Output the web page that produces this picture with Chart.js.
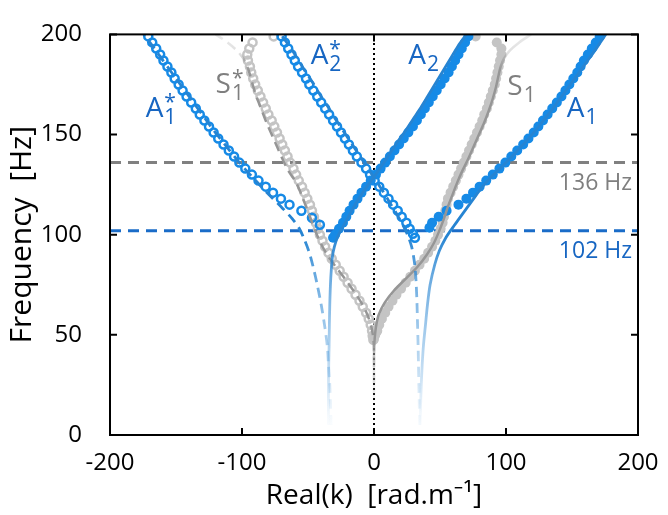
<!DOCTYPE html>
<html>
<head>
<meta charset="utf-8">
<script src="https://cdn.jsdelivr.net/npm/chart.js@4.4.1/dist/chart.umd.min.js"></script>
<style>
  html, body { margin: 0; padding: 0; background: #fff; }
  canvas { display: block; }
</style>
</head>
<body>
<canvas id="chart" width="668" height="515"></canvas>
<script>
// ---- data (frequency in Hz, wavenumber in rad/m) ----
// A1* measured (hollow, negative k)
const a1StarFreq = [199,196,193,190,187,184,181,178,175,172,169,166,163,160,157,154,151,148,145,142,139,136,133,130,127,124,121,118,115,112,108.5,105];
const a1StarK    = [-171,-168,-165,-162,-159.5,-156.5,-153.5,-151,-148,-145,-142,-138.5,-135,-132,-128.5,-125,-121.5,-118,-114,-110,-106,-102,-97.5,-92.5,-87.5,-82,-76.5,-70.5,-64,-55,-47,-41];
// A1 measured (filled)
const a1Freq = [199,196,193,190,187,184,181,178,175,172,169,166,163,160,157,154,151,148,145,142,139,136,133,130,127,124,121,118,115,112,109,106,103.5];
const a1K    = [171,168,165,162,159,156.5,154,151,148,145,142,138.5,135,131.5,128,124.5,121,117,113,108.5,104,99.5,95,90,85,80,75,70,64,55,49,44,42];
// A2* measured (hollow)
const a2StarFreq = [199,196,193,190,187,184,181,178,175,172,169,166,163,160,157,154,151,148,145,142,139,136,133,130,127,124,121,118,115,112,109,106,103,100.5,98.5];
const a2StarK    = [-70,-67.5,-65,-62.5,-60,-57.5,-54.5,-51.5,-49,-46,-43,-40,-37,-34,-31,-28,-25,-22,-19,-16,-13,-9.5,-6,-3,0.5,4,7.5,11,14.5,18,21,24.5,27,29.5,31];
// A2 measured (filled)
const a2Freq = [98.5,100,103,106,109,112,115,118,121,124,127,130,133,136,139,142,145,148,151,154,157,160,163,166,169,172,175,178,181,184,187,190,193,196,199];
const a2K    = [-31,-29.5,-26.5,-23.5,-21,-18.5,-15.5,-12.5,-9.5,-6,-2.5,1.5,5,8.5,12,15.5,19,22.5,26,29.5,32.5,35.5,38.5,41.5,44.5,47.5,50.5,53.5,56.5,59,61.5,64,66.5,69,71.5];
// S1* measured (hollow, grey)
const s1StarFreq = [199,196,193,190,187,184,181,178,175,172,169,166,163,160,157,154,151,148,145,142,139,136,133,130,127,124,121,118,115,112,109,106,103,100,97,94,91,88,85,82,79,76,73,70,67,64,61,58,55,52,49.5,47.5];
const s1StarK    = [-76,-92,-94.5,-96,-95.5,-94,-93,-91.5,-90,-88,-86,-84,-82,-80,-77.5,-75.5,-73.5,-71.5,-69.5,-67.5,-65.5,-63.5,-61,-59,-57,-54.5,-52.5,-50.5,-48.5,-47,-45.5,-44,-42.5,-41,-39,-37,-34.5,-32,-29,-26,-23,-20,-17,-14,-11,-8.5,-6,-4,-2.5,-1.5,-1,-0.5];
// S1 measured (filled, grey)
const s1Freq = [199,196,193,190,187,184,181,178,175,172,169,166,163,160,157,154,151,148,145,142,139,136,133,130,127,124,121,118,115,112,109,106,103,100,97,94,91,88,85,82,79,76,73,70,67,64,61,58,55,52,50,48];
const s1K    = [77,93,96.5,96.5,95.5,94.5,93.5,92.5,91.5,90,88.5,87,85.5,83.5,82,80,78,76,74,72,70,68,66,64,62,60,58,56,55,54,53,52,50.5,48.5,46.5,44,41,38,34.5,31,27.5,24,20.5,17,14,11,8.5,6,4,2.5,1,0];

// model curves
const a1ModelFreq = [5,15,25,35,45,55,65,75,85,92,98,103,108,113,118,123,128,133,138,143,148,153,158,163,168,173,178,183,188,193,198,201];
const a1ModelK    = [35,35.3,35.8,36.5,37.5,39,40.5,42.5,46,49.5,54,59,64.5,70,75.5,81,87.5,95.5,103,110,117,123.5,129.5,135.5,141,146.5,152,157.5,163,168.5,173.5,176.5];
const a1StarModelFreq = [5,15,25,35,45,55,65,75,85,92,98,103,108,113,118,123,128,133,138,143,148,153,158,163,168,173,178,183,188,193,198,201];
const a1StarModelK    = [-32.5,-33,-33.5,-34.5,-35.5,-37.5,-40,-43,-46.5,-49.5,-53,-56.5,-62,-69,-76.5,-84,-91,-98,-104.5,-110.5,-116.5,-122.5,-128,-133.5,-139,-144.5,-150,-155.5,-161,-166.5,-172,-175.5];
const a2StarModelFreq = [5,15,25,35,45,55,65,75,83,89,94,99,104,110,116,122,128,134,140,146,152,158,164,170,176,182,188,194,200];
const a2StarModelK    = [34.5,34.3,34,33.7,33.4,33,32.6,32,31.2,30,28.5,26,22.5,17.5,12,6.5,0.5,-5.5,-11.5,-17.5,-23.5,-29.5,-35,-41,-46.5,-52.5,-58,-64,-70.5];
const a2ModelFreq = [5,15,25,35,45,55,65,75,83,89,94,99,104,110,116,122,128,134,140,146,152,158,164,170,176,182,188,194,200];
const a2ModelK    = [-34.5,-34.5,-34.5,-34.3,-34,-33.8,-33.5,-33,-32.3,-31.5,-30,-27.5,-23.5,-18.5,-13.5,-7.5,-1,5.5,11.5,17.5,24,30,36,41.5,47,52.5,58,63.5,70];
const s1ModelFreq = [10,20,30,40,48,54,60,66,72,78,84,90,96,102,108,114,120,126,132,138,144,150,156,162,168,174,180,184,188,192,196,200];
const s1ModelK    = [0,0,0,0,0.5,1.5,3.5,8,15,24,33,40,45.5,49.5,53,56,59.5,63,67,71.5,75.5,79.5,83.5,87,90,92.5,94.5,96,98.5,103,110,119];
const s1StarModelFreq = [10,20,30,40,48,54,60,66,72,78,84,90,96,102,108,114,120,126,132,138,144,150,156,162,168,174,180,184,188,192,196,200];
const s1StarModelK    = [0,0,0,0,-0.5,-2,-5,-9.5,-15.5,-22,-29,-35.5,-40.5,-44.5,-48,-51.5,-55,-59,-65,-69.5,-73.5,-77.5,-81.5,-85,-88.5,-91.5,-94,-96,-99,-104,-111,-120];

// cut-off frequencies
const cutoffFreqs = [136, 102];
const cutoffLabels = ['136 Hz', '102 Hz'];

const xTicks = [-200, -100, 0, 100, 200];
const yTicks = [0, 50, 100, 150, 200];

// ---- styles ----
const FONT = "'Open Sans', 'Noto Sans', sans-serif";
const BLUE_PT = '#168ae6';
const BLUE_TXT = '#1766c2';
const BLUE_LINE_RGB = '38,132,210';
const GREY_PT = '#c4c4c4';
const GREY_TXT = '#7f7f7f';
const GREY_LINE_RGB = '150,150,150';

Chart.defaults.font.family = FONT;
Chart.defaults.color = '#000';

function pairs(ks, fs) {
    return ks.map((k, i) => ({x: k, y: fs[i]}));
}

// vertical fade, stops given as [freq, alpha]
function fade(rgb, stops) {
    return function(context) {
        const chart = context.chart;
        const {ctx, chartArea, scales} = chart;
        if (!chartArea) { return 'rgb(' + rgb + ')'; }
        const g = ctx.createLinearGradient(0, scales.y.getPixelForValue(0), 0, scales.y.getPixelForValue(200));
        stops.forEach(s => g.addColorStop(s[0] / 200, 'rgba(' + rgb + ',' + s[1] + ')'));
        return g;
    };
}
const blueFade = [[0,0],[10,0.05],[30,0.25],[55,0.45],[80,0.7],[100,1],[200,1]];
const greyFade = [[0,0],[15,0],[35,0.3],[48,1],[182,1],[190,0.3],[200,0.2]];

function pointSet(ks, fs, color, hollow, order) {
    return {
        data: pairs(ks, fs),
        showLine: false,
        pointRadius: hollow ? 4 : 5,
        pointBorderWidth: hollow ? 2.5 : 0,
        pointBorderColor: color,
        pointBackgroundColor: hollow ? 'rgba(255,255,255,0)' : color,
        order: order
    };
}
function lineSet(ks, fs, color, dash, width) {
    return {
        data: pairs(ks, fs),
        showLine: true,
        pointRadius: 0,
        borderColor: color,
        borderWidth: width || 2.5,
        borderDash: dash || [],
        tension: 0.3,
        fill: false,
        order: 0
    };
}

const datasets = [
    // models
    lineSet(a1ModelK, a1ModelFreq, fade(BLUE_LINE_RGB, blueFade), [], 2.8),
    lineSet(a1StarModelK, a1StarModelFreq, fade(BLUE_LINE_RGB, blueFade), [10, 6], 2.8),
    lineSet(a2ModelK, a2ModelFreq, fade(BLUE_LINE_RGB, blueFade), [], 2.8),
    lineSet(a2StarModelK, a2StarModelFreq, fade(BLUE_LINE_RGB, blueFade), [10, 6], 2.8),
    lineSet(s1ModelK, s1ModelFreq, fade(GREY_LINE_RGB, greyFade)),
    lineSet(s1StarModelK, s1StarModelFreq, fade(GREY_LINE_RGB, greyFade), [10, 6]),
    // measurements
    pointSet(a1StarK, a1StarFreq, BLUE_PT, true, 1),
    pointSet(a1K, a1Freq, BLUE_PT, false, 1),
    pointSet(a2StarK, a2StarFreq, BLUE_PT, true, 1),
    pointSet(a2K, a2Freq, BLUE_PT, false, 1),
    pointSet(s1StarK, s1StarFreq, GREY_PT, true, 1),
    pointSet(s1K, s1Freq, GREY_PT, false, 1),
    // cut-off lines and k = 0
    Object.assign(lineSet([-200, 200], [cutoffFreqs[0], cutoffFreqs[0]], '#808080', [11, 7], 3), {order: 2, tension: 0}),
    Object.assign(lineSet([-200, 200], [cutoffFreqs[1], cutoffFreqs[1]], '#1a6cc8', [11, 7], 3), {order: 2, tension: 0}),
    Object.assign(lineSet([0, 0], [0, 200], '#000', [2, 3], 2), {order: 2, tension: 0})
];

// curve names, placed in data units
const curveLabels = [
    {text: 'A', sub: '1', sup: '*', k: -173, f: 159, color: BLUE_TXT},
    {text: 'S', sub: '1', sup: '*', k: -120, f: 170.5, color: GREY_TXT},
    {text: 'A', sub: '2', sup: '*', k: -48, f: 185, color: BLUE_TXT},
    {text: 'A', sub: '2', sup: '', k: 26, f: 185, color: BLUE_TXT},
    {text: 'S', sub: '1', sup: '', k: 101, f: 169.5, color: GREY_TXT},
    {text: 'A', sub: '1', sup: '', k: 146, f: 159, color: BLUE_TXT}
];

const labelPlugin = {
    id: 'curveLabels',
    afterDatasetsDraw(chart) {
        const {ctx, scales: {x, y}, chartArea} = chart;
        ctx.save();
        ctx.textBaseline = 'alphabetic';
        ctx.textAlign = 'left';
        curveLabels.forEach(l => {
            const px = x.getPixelForValue(l.k);
            const py = y.getPixelForValue(l.f);
            ctx.fillStyle = l.color;
            ctx.font = '28px ' + FONT;
            ctx.fillText(l.text, px, py);
            const w = ctx.measureText(l.text).width;
            ctx.font = '21px ' + FONT;
            ctx.fillText(l.sub, px + w + 1, py + 7);
            if (l.sup) ctx.fillText(l.sup, px + w + 1, py - 8);
        });
        ctx.textAlign = 'right';
        ctx.font = '23px ' + FONT;
        cutoffLabels.forEach((t, i) => {
            ctx.fillStyle = i === 0 ? GREY_TXT : BLUE_TXT;
            ctx.fillText(t, chartArea.right - 6, y.getPixelForValue(cutoffFreqs[i]) + 27);
        });
        ctx.restore();
    }
};

// box with inward ticks on all four sides
const framePlugin = {
    id: 'frame',
    afterDraw(chart) {
        const {ctx, chartArea: {left, right, top, bottom}, scales: {x, y}} = chart;
        const len = 7;
        ctx.save();
        ctx.strokeStyle = '#000';
        ctx.lineWidth = 2;
        ctx.strokeRect(left, top, right - left, bottom - top);
        ctx.beginPath();
        x.ticks.forEach(t => {
            const px = x.getPixelForValue(t.value);
            ctx.moveTo(px, bottom); ctx.lineTo(px, bottom - len);
            ctx.moveTo(px, top); ctx.lineTo(px, top + len);
        });
        y.ticks.forEach(t => {
            const py = y.getPixelForValue(t.value);
            ctx.moveTo(left, py); ctx.lineTo(left + len, py);
            ctx.moveTo(right, py); ctx.lineTo(right - len, py);
        });
        ctx.stroke();
        ctx.restore();
    }
};

const chart = new Chart(document.getElementById('chart'), {
    type: 'scatter',
    data: {datasets: datasets},
    options: {
        responsive: false,
        animation: false,
        layout: {padding: {top: 30, right: 30, left: 0, bottom: 0}},
        plugins: {legend: {display: false}, tooltip: {enabled: false}},
        scales: {
            x: {
                type: 'linear', min: -200, max: 200,
                afterBuildTicks: s => { s.ticks = xTicks.map(v => ({value: v})); },
                ticks: {font: {size: 24}, padding: 6, maxRotation: 0, color: '#000'},
                grid: {display: false},
                border: {display: false},
                title: {display: true, text: 'Real(k)  [rad.m⁻¹]', font: {size: 28}, color: '#000', padding: {top: 0, bottom: 2}},
                afterFit: s => { s.height = 80; }
            },
            y: {
                type: 'linear', min: 0, max: 200,
                afterBuildTicks: s => { s.ticks = yTicks.map(v => ({value: v})); },
                ticks: {font: {size: 24}, padding: 20, color: '#000'},
                grid: {display: false},
                border: {display: false},
                title: {display: true, text: 'Frequency  [Hz]', font: {size: 30}, color: '#000', padding: {top: 4, bottom: 0}},
                afterFit: s => { s.width = 110; }
            }
        }
    },
    plugins: [labelPlugin, framePlugin]
});
</script>
</body>
</html>
